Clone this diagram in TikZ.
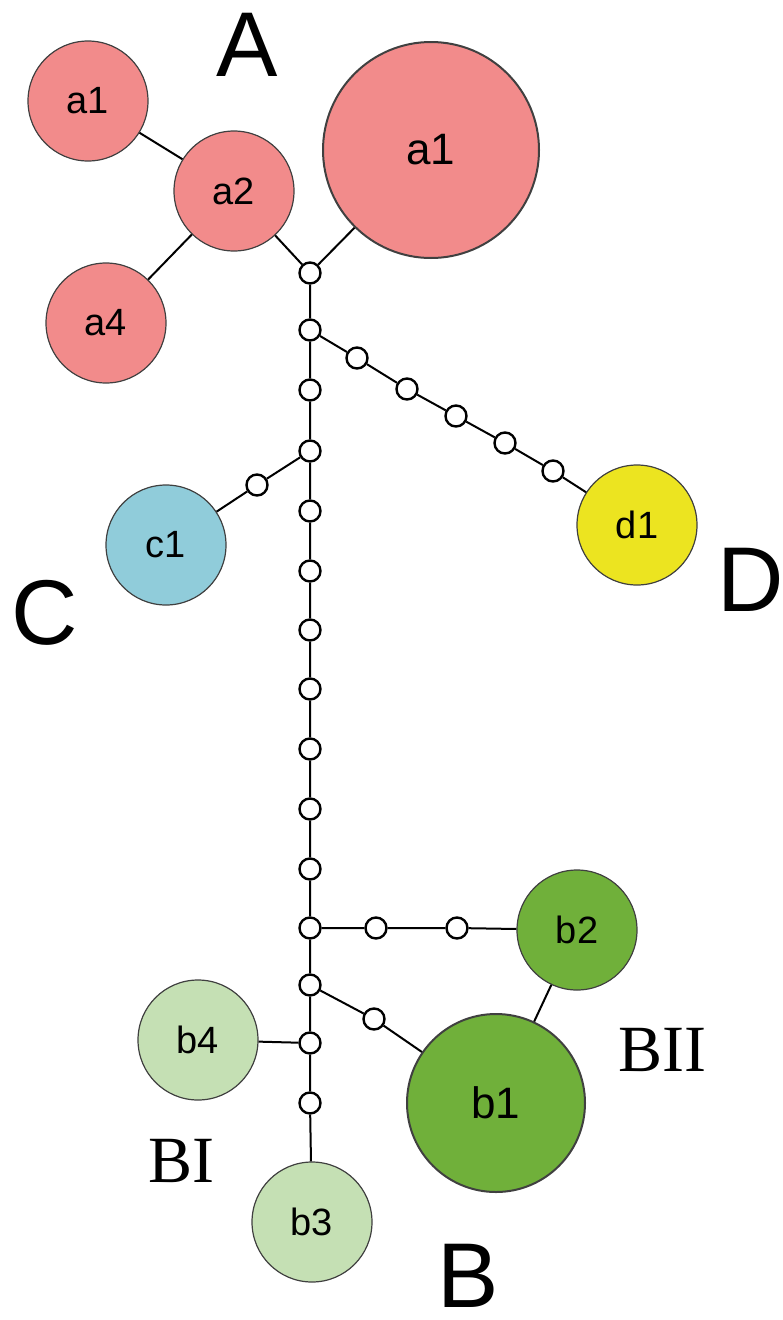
\documentclass[tikz,border=0pt]{standalone}
\usepackage{fontspec}
\setmainfont{Liberation Serif}
\setsansfont{Liberation Sans}
\definecolor{hapA}{RGB}{242,139,139}
\definecolor{hapB}{RGB}{112,176,58}
\definecolor{hapBI}{RGB}{197,224,180}
\definecolor{hapC}{RGB}{144,204,218}
\definecolor{hapD}{RGB}{236,228,32}
\newcommand\hapfont{\sffamily\fontsize{38}{38}\selectfont}
\newcommand\hapbigfont{\sffamily\fontsize{44}{44}\selectfont}
\newcommand\grpfont{\sffamily\fontsize{92}{92}\selectfont}
\newcommand\subgrpfont{\rmfamily\fontsize{66}{66}\selectfont}
\tikzset{
  hap/.style={circle,draw=black!75,line width=1.2pt,inner sep=0pt,minimum size=120pt,font=\hapfont},
  hapbig/.style={hap,line width=2pt,font=\hapbigfont},
  mv/.style={circle,draw,fill=white,line width=2.4pt,inner sep=0pt,minimum size=21pt},
  link/.style={line width=2pt}
}
\begin{document}
\begin{tikzpicture}[x=1pt,y=-1pt]

\useasboundingbox (0,0) rectangle (783,1320);

\node[hap,fill=hapA] (a1s) at (88,101) {a1};
\node[hap,fill=hapA] (a2) at (234,191) {a2};
\node[hap,fill=hapA] (a4) at (106,323) {a4};
\node[hapbig,fill=hapA,minimum size=216pt] (a1) at (431,150) {a1};

\node[mv] (v0) at (310,273) {};
\node[mv] (v1) at (310,330) {};
\node[mv] (v2) at (310,390) {};
\node[mv] (v3) at (310,451) {};
\node[mv] (v4) at (310,511) {};
\node[mv] (v5) at (310,571) {};
\node[mv] (v6) at (310,630) {};
\node[mv] (v7) at (310,689) {};
\node[mv] (v8) at (310,749) {};
\node[mv] (v9) at (310,809) {};
\node[mv] (v10) at (310,869) {};
\node[mv] (v11) at (310,928) {};
\node[mv] (v12) at (310,985) {};
\node[mv] (v13) at (310,1043) {};
\node[mv] (v14) at (310,1103) {};

\node[mv] (d1a) at (357,358) {};
\node[mv] (d1b) at (407,389) {};
\node[mv] (d1c) at (456,416) {};
\node[mv] (d1d) at (505,443) {};
\node[mv] (d1e) at (553,471) {};
\node[hap,fill=hapD] (d1) at (637,525) {d1};

\node[mv] (c1a) at (257,485) {};
\node[hap,fill=hapC] (c1) at (166,545) {c1};

\node[mv] (b2a) at (376,928) {};
\node[mv] (b2b) at (457,928) {};
\node[hap,fill=hapB] (b2) at (577,930) {b2};

\node[mv] (b1a) at (374,1019) {};
\node[hapbig,fill=hapB,minimum size=178pt] (b1) at (496,1103) {b1};

\node[hap,fill=hapBI] (b4) at (198,1040) {b4};
\node[hap,fill=hapBI] (b3) at (312,1222) {b3};

\draw[link] (a1s) -- (a2) -- (a4);
\draw[link] (a2) -- (v0) -- (a1);
\draw[link] (v0) -- (v1) -- (v2) -- (v3) -- (v4) -- (v5) -- (v6) -- (v7) -- (v8)
  -- (v9) -- (v10) -- (v11) -- (v12) -- (v13) -- (v14) -- (b3);
\draw[link] (v1) -- (d1a) -- (d1b) -- (d1c) -- (d1d) -- (d1e) -- (d1);
\draw[link] (v3) -- (c1a) -- (c1);
\draw[link] (v11) -- (b2a) -- (b2b) -- (b2);
\draw[link] (v12) -- (b1a) -- (b1) -- (b2);
\draw[link] (v13) -- (b4);

\node[font=\grpfont] (lA) at (247,45) {A};
\node[font=\grpfont,inner sep=0pt] (lB) at (468,1276) {B};
\node[font=\grpfont] (lC) at (45,613) {C};
\node[font=\grpfont] (lD) at (751,580) {D};
\node[font=\subgrpfont] (lBI) at (181,1161) {BI};
\node[font=\subgrpfont] (lBII) at (662,1050) {BII};

\end{tikzpicture}
\end{document}
